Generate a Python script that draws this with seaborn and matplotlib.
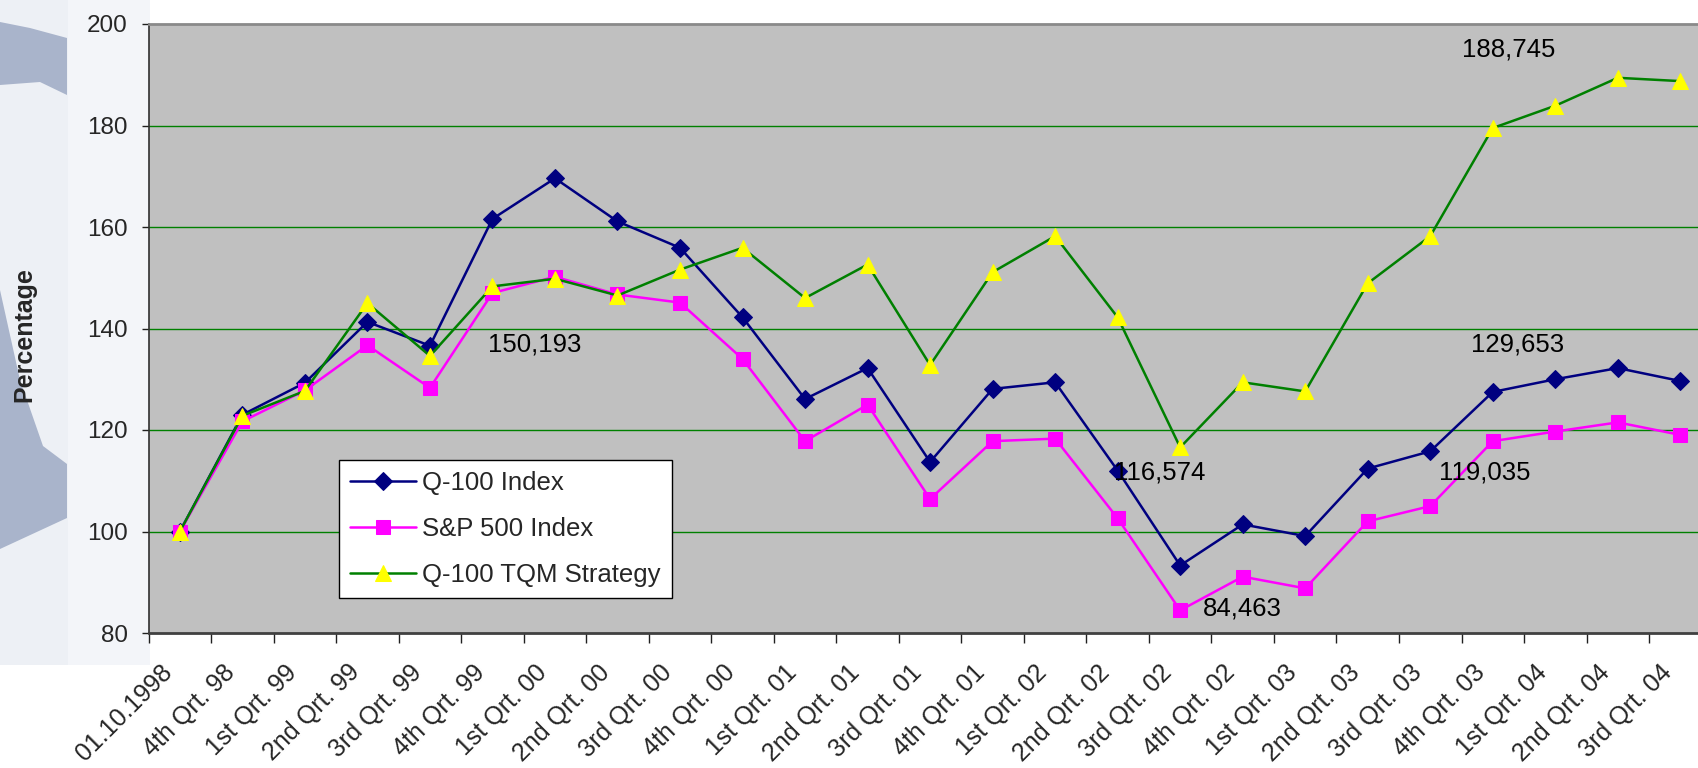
import numpy as np
import pandas as pd
import matplotlib
matplotlib.use("Agg")
import matplotlib.pyplot as plt
import matplotlib.transforms as mtransforms
from matplotlib.patches import Polygon, Rectangle
from matplotlib.ticker import FixedLocator, NullFormatter
import seaborn as sns

categories = ["01.10.1998", "4th Qrt. 98", "1st Qrt. 99", "2nd Qrt. 99", "3rd Qrt. 99",
              "4th Qrt. 99", "1st Qrt. 00", "2nd Qrt. 00", "3rd Qrt. 00", "4th Qrt. 00",
              "1st Qrt. 01", "2nd Qrt. 01", "3rd Qrt. 01", "4th Qrt. 01", "1st Qrt. 02",
              "2nd Qrt. 02", "3rd Qrt. 02", "4th Qrt. 02", "1st Qrt. 03", "2nd Qrt. 03",
              "3rd Qrt. 03", "4th Qrt. 03", "1st Qrt. 04", "2nd Qrt. 04", "3rd Qrt. 04"]

q100 = [100, 123.0, 129.3, 141.3, 136.6, 161.6, 169.6, 161.1, 155.9, 142.2,
        126.1, 132.2, 113.7, 128.1, 129.4, 112.0, 93.3, 101.4, 99.1, 112.4,
        115.8, 127.5, 130.0, 132.2, 129.653]
sp500 = [100, 121.7, 127.8, 136.7, 128.3, 147.0, 150.193, 146.7, 145.1, 134.0,
         117.8, 125.0, 106.4, 117.8, 118.3, 102.6, 84.463, 91.1, 88.8, 102.0,
         105.0, 117.8, 119.7, 121.5, 119.035]
tqm = [100, 122.8, 127.7, 145.0, 134.6, 148.3, 149.8, 146.5, 151.6, 155.9,
       146.0, 152.6, 132.8, 151.1, 158.2, 142.2, 116.574, 129.4, 127.6, 148.9,
       158.2, 179.5, 183.9, 189.4, 188.745]

series_names = ["Q-100 Index", "S&P 500 Index", "Q-100 TQM Strategy"]

label_texts = ["150,193", "116,574", "84,463", "119,035", "129,653", "188,745"]
label_x = [5.67, 15.67, 17.0, 20.87, 21.4, 21.25]
label_y = [136.8, 111.7, 84.9, 111.7, 136.8, 195.0]

sns.set_theme(style="white")
plt.rcParams["font.family"] = ["Liberation Sans", "DejaVu Sans"]

W, H = 1699, 768
fig = plt.figure(figsize=(W / 100, H / 100), dpi=100)
fig.patch.set_facecolor("white")


def px(pts):
    return [(x / W, 1 - y / H) for x, y in pts]


# faint watermark decoration on the left (drawn beneath the axes)
fig.patches.append(Rectangle((0, 1 - 665 / H), 68 / W, 665 / H, transform=fig.transFigure,
                             facecolor="#EDF0F5", edgecolor="none", zorder=-3))
fig.patches.append(Polygon(px([(68, 0), (150, 0), (150, 665), (68, 665)]), transform=fig.transFigure,
                           facecolor="#F3F5F9", edgecolor="none", zorder=-3))
fig.patches.append(Polygon(px([(0, 22), (30, 28), (67, 38), (67, 95), (40, 82), (0, 85)]),
                           transform=fig.transFigure, facecolor="#A9B4CB", edgecolor="none", zorder=-2))
fig.patches.append(Polygon(px([(0, 290), (20, 380), (43, 446), (67, 464), (67, 518), (0, 549)]),
                           transform=fig.transFigure, facecolor="#A9B4CB", edgecolor="none", zorder=-2))

ax = fig.add_axes([148.6 / W, 1 - 633 / H, 1563 / W, 609 / H])
ax.set_facecolor("#C0C0C0")

x = np.arange(len(categories))
df = pd.DataFrame({"x": x, "q100": q100, "sp500": sp500, "tqm": tqm})

sns.lineplot(data=df, x="x", y="q100", ax=ax, color="#000080", lw=1.8, marker="D",
             markersize=9, markeredgecolor="#000080", markerfacecolor="#000080",
             label=series_names[0], zorder=3)
sns.lineplot(data=df, x="x", y="sp500", ax=ax, color="#FF00FF", lw=1.8, marker="s",
             markersize=10, markeredgecolor="#FF00FF", markerfacecolor="#FF00FF",
             label=series_names[1], zorder=4)
sns.lineplot(data=df, x="x", y="tqm", ax=ax, color="#008000", lw=1.8, marker="^",
             markersize=12, markeredgecolor="#FFFF00", markerfacecolor="#FFFF00",
             label=series_names[2], zorder=5)

for t, lx, ly in zip(label_texts, label_x, label_y):
    ax.text(lx, ly, t, ha="center", va="center", fontsize=18.5, color="black", zorder=6)

ax.set_xlim(-0.5, len(categories) - 0.5)
ax.set_ylim(80, 200)
ax.set_yticks([80, 100, 120, 140, 160, 180, 200])
ax.grid(False)
for v in [100, 120, 140, 160, 180]:
    ax.axhline(v, color="#008000", lw=1.0, zorder=1)

ax.set_xticks(x)
ax.xaxis.set_minor_locator(FixedLocator(np.arange(-0.5, len(categories), 1)))
ax.xaxis.set_minor_formatter(NullFormatter())
ax.tick_params(axis="x", which="major", length=0, pad=14)
ax.tick_params(axis="x", which="minor", length=7, width=1, color="#202020", direction="out", bottom=True)
ax.tick_params(axis="y", which="major", length=5, width=1, color="#202020", direction="out",
               left=True, labelsize=17.5, pad=10)
ax.set_xticklabels(categories, rotation=45, ha="right", rotation_mode="anchor", fontsize=18)
offset = mtransforms.ScaledTranslation(-14.5 / 72, -5.5 / 72, fig.dpi_scale_trans)
for lab in ax.get_xticklabels():
    lab.set_transform(lab.get_transform() + offset)

ax.set_xlabel("")
ax.set_ylabel("Percentage", fontsize=18, fontweight="bold")
ax.yaxis.set_label_coords((36 - 148.6) / 1563, 0.49)

ax.spines["top"].set_color("#8A8A8A")
ax.spines["top"].set_linewidth(2)
ax.spines["left"].set_color("#303030")
ax.spines["left"].set_linewidth(1.2)
ax.spines["bottom"].set_color("#404040")
ax.spines["bottom"].set_linewidth(2)
ax.spines["right"].set_visible(False)

leg = ax.legend(loc="lower left", bbox_to_anchor=((339 - 148.6) / 1563, (633 - 598) / 609),
                fontsize=18.5, frameon=True, fancybox=False, framealpha=1, edgecolor="black",
                handlelength=2.55, handletextpad=0.25, labelspacing=0.86, borderpad=0.43,
                borderaxespad=0)
leg.get_frame().set_linewidth(1.0)
leg.get_frame().set_facecolor("white")

fig.savefig("out.png", dpi=100)
